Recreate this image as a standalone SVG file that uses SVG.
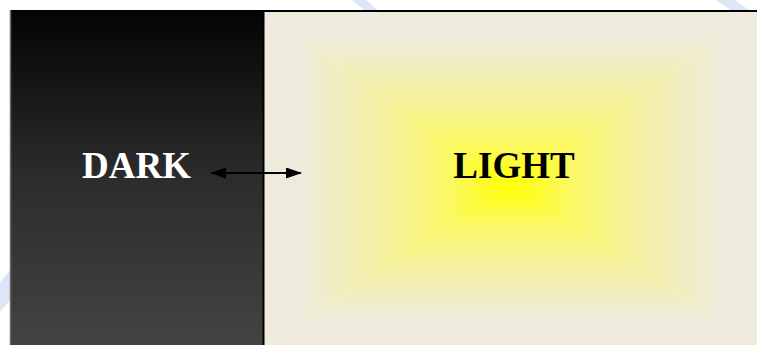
<svg xmlns="http://www.w3.org/2000/svg" width="757" height="345" viewBox="0 0 757 345">
  <style>
    .lbl { font-family: "Liberation Serif", "Times New Roman", serif; font-weight: bold; font-size: 37px; text-anchor: middle; }
    .wm { fill: #dde6f7; }
  </style>
  <defs>
    <linearGradient id="darkGrad" x1="0" y1="11" x2="0" y2="345" gradientUnits="userSpaceOnUse">
      <stop offset="0" stop-color="#040404"/>
      <stop offset="0.5" stop-color="#2c2c2c"/>
      <stop offset="1" stop-color="#434343"/>
    </linearGradient>
    <linearGradient id="gTop" x1="0" y1="11" x2="0" y2="185" gradientUnits="userSpaceOnUse">
      <stop offset="0" stop-color="#EEEBDC"/>
      <stop offset="0.15" stop-color="#EEEBDC"/>
      <stop offset="0.5" stop-color="#F4F09E"/>
      <stop offset="0.75" stop-color="#FAF866"/>
      <stop offset="1" stop-color="#FFFF00"/>
    </linearGradient>
    <linearGradient id="gBot" x1="0" y1="345" x2="0" y2="185" gradientUnits="userSpaceOnUse">
      <stop offset="0" stop-color="#EEEBDC"/>
      <stop offset="0.15" stop-color="#EEEBDC"/>
      <stop offset="0.5" stop-color="#F4F09E"/>
      <stop offset="0.75" stop-color="#FAF866"/>
      <stop offset="1" stop-color="#FFFF00"/>
    </linearGradient>
    <linearGradient id="gLeft" x1="264" y1="0" x2="510" y2="0" gradientUnits="userSpaceOnUse">
      <stop offset="0" stop-color="#EEEBDC"/>
      <stop offset="0.15" stop-color="#EEEBDC"/>
      <stop offset="0.5" stop-color="#F4F09E"/>
      <stop offset="0.75" stop-color="#FAF866"/>
      <stop offset="1" stop-color="#FFFF00"/>
    </linearGradient>
    <linearGradient id="gRight" x1="757" y1="0" x2="510" y2="0" gradientUnits="userSpaceOnUse">
      <stop offset="0" stop-color="#EEEBDC"/>
      <stop offset="0.15" stop-color="#EEEBDC"/>
      <stop offset="0.5" stop-color="#F4F09E"/>
      <stop offset="0.75" stop-color="#FAF866"/>
      <stop offset="1" stop-color="#FFFF00"/>
    </linearGradient>
    <marker id="arrow" viewBox="0 0 16 11" refX="15" refY="5.5" markerWidth="16" markerHeight="11" markerUnits="userSpaceOnUse" orient="auto-start-reverse">
      <path d="M0,0 L16,5.5 L0,11 Z" fill="#000"/>
    </marker>
  </defs>

  <rect width="757" height="345" fill="#ffffff"/>
  <g id="watermark">
    <polygon class="wm" points="352,0 366,0 392,22 384,26"/>
    <polygon class="wm" points="716,0 735,0 757,16 757,28"/>
    <polygon class="wm" points="0,282 10,270 10,300 0,312"/>
  </g>

  <g id="dark">
    <rect x="11" y="11" width="252" height="334" fill="url(#darkGrad)"/>
    <text class="lbl" x="136.5" y="178" fill="#ffffff">DARK</text>
  </g>

  <g id="light">
    <polygon points="264,11 757,11 510,185" fill="url(#gTop)"/>
    <polygon points="264,345 757,345 510,185" fill="url(#gBot)"/>
    <polygon points="264,11 264,345 510,185" fill="url(#gLeft)"/>
    <polygon points="757,11 757,345 510,185" fill="url(#gRight)"/>
    <text class="lbl" x="514" y="178" fill="#000000">LIGHT</text>
  </g>

  <g id="frame">
    <line x1="10" y1="11" x2="757" y2="11" stroke="#000" stroke-width="2"/>
    <line x1="10.5" y1="10" x2="10.5" y2="345" stroke="#6a6a6a" stroke-width="1.5"/>
    <line x1="263.5" y1="11" x2="263.5" y2="345" stroke="#000" stroke-width="2"/>
  </g>

  <g id="connectors">
    <line x1="211" y1="173" x2="301" y2="173" stroke="#000" stroke-width="2" marker-start="url(#arrow)" marker-end="url(#arrow)"/>
  </g>
</svg>
